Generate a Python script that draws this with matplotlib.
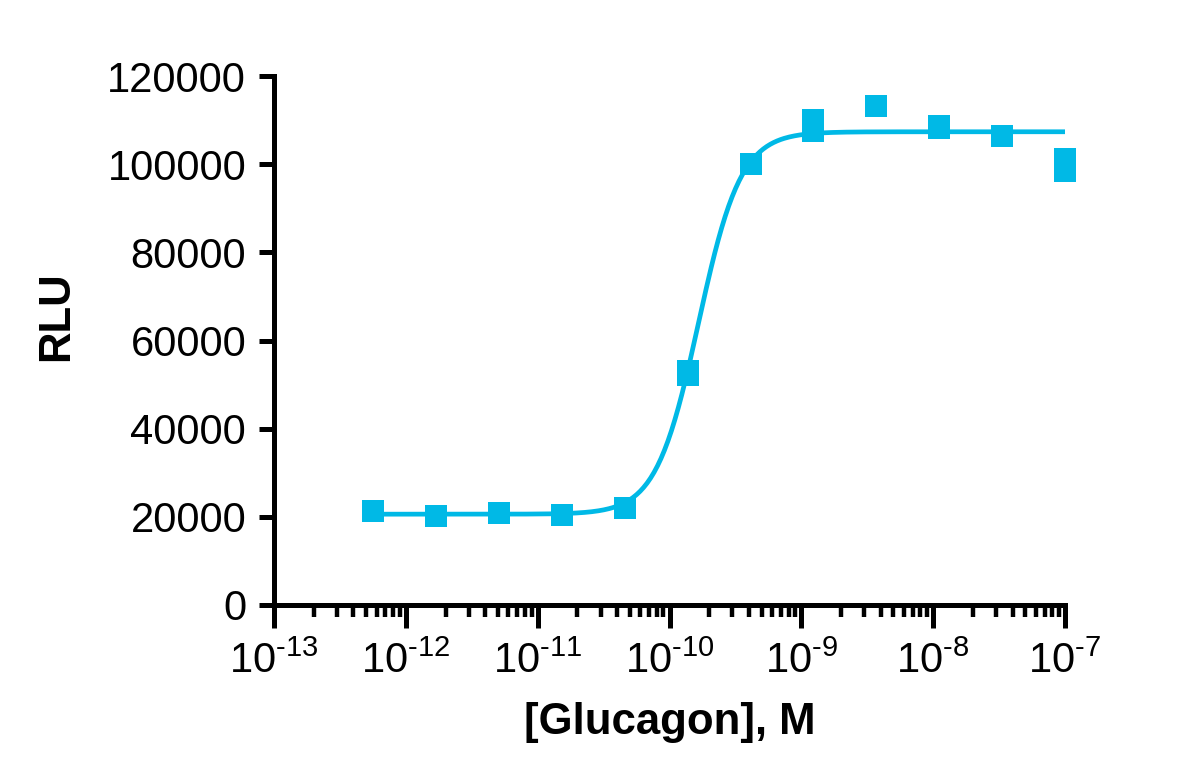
import numpy as np
import matplotlib
matplotlib.use("Agg")
import matplotlib.pyplot as plt
from matplotlib.ticker import LogLocator, FixedLocator, FuncFormatter

plt.rcParams['font.family'] = ['Liberation Sans', 'DejaVu Sans']
plt.rcParams['mathtext.fontset'] = 'custom'
plt.rcParams['mathtext.rm'] = 'Liberation Sans'
plt.rcParams['mathtext.it'] = 'Liberation Sans:italic'
plt.rcParams['mathtext.bf'] = 'Liberation Sans:bold'

# glucagon concentrations (M), 3-fold dilutions from 100 nM
conc = [5.65e-13, 1.69e-12, 5.08e-12, 1.52e-11, 4.57e-11, 1.37e-10,
        4.12e-10, 1.23e-9, 3.70e-9, 1.11e-8, 3.33e-8, 1.0e-7]
# replicate RLU readings
rep1 = [21300, 20150, 20850, 20400, 22100, 53100,
        100100, 110000, 113200, 108600, 106400, 101100]
rep2 = [21250, 20150, 20800, 20350, 22050, 52200,
        100000, 107600, 113300, 108200, 106300, 98500]

# fitted 4PL parameters (bottom, top, logEC50, hill slope)
fit_bottom = 20600
fit_top = 107350
fit_logec50 = -9.78
fit_hill = 2.7

color = '#00B9E6'

fig = plt.figure(figsize=(12, 7.83), dpi=100)
ax = fig.add_axes([274 / 1200, 1 - 605 / 783, (1065 - 274) / 1200, (605 - 76) / 783])

xs = np.logspace(np.log10(conc[0]), np.log10(conc[-1]), 400)
ys = fit_bottom + (fit_top - fit_bottom) / (1 + 10 ** ((fit_logec50 - np.log10(xs)) * fit_hill))
ax.plot(xs, ys, color=color, lw=3.4, zorder=2)

ax.plot(conc, rep1, 's', color=color, ms=15.3, mew=0, zorder=3, clip_on=False)
ax.plot(conc, rep2, 's', color=color, ms=15.3, mew=0, zorder=3, clip_on=False)

ax.set_xscale('log')
ax.set_xlim(1e-13, 1e-7)
ax.set_ylim(0, 120000)
ax.xaxis.set_major_locator(FixedLocator([10.0 ** e for e in range(-13, -6)]))
ax.xaxis.set_minor_locator(LogLocator(base=10, subs=np.arange(2, 10), numticks=20))
ax.xaxis.set_major_formatter(FuncFormatter(
    lambda v, p: '$10^{\u2010%d}$' % abs(round(np.log10(v)))))
ax.set_yticks(range(0, 120001, 20000))
ax.set_yticklabels([str(v) for v in range(0, 120001, 20000)])

for s in ['top', 'right']:
    ax.spines[s].set_visible(False)
for s in ['left', 'bottom']:
    ax.spines[s].set_linewidth(3.6)

ax.tick_params(axis='x', which='major', length=16.5, width=3.6, pad=10, labelsize=30)
ax.tick_params(axis='x', which='minor', length=8.5, width=3.2)
ax.tick_params(axis='y', which='major', length=11, width=3.6, pad=9, labelsize=30)

ax.set_xlabel('[Glucagon], M', fontsize=31.5, fontweight='bold', labelpad=14)
ax.set_ylabel('RLU', fontsize=31.5, fontweight='bold')
ax.yaxis.set_label_coords(-0.249, 0.546)

fig.savefig('out.png', dpi=100)
